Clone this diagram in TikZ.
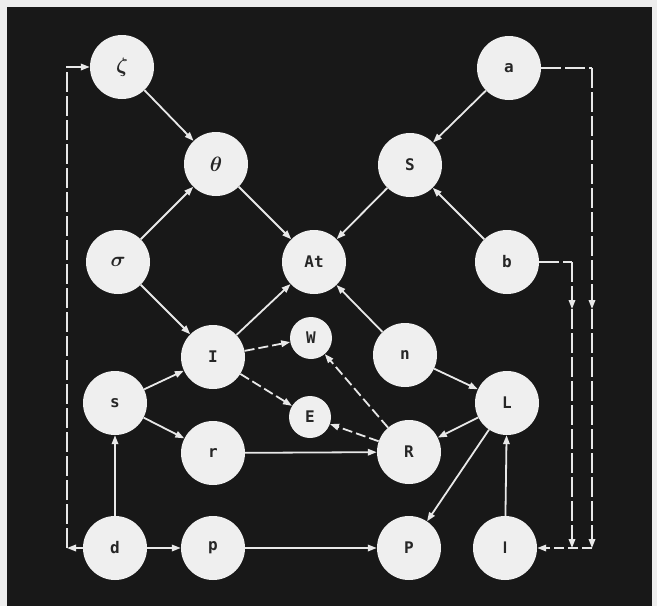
\documentclass[tikz,border=0pt]{standalone}
\usepackage{fontspec}
\setmainfont{DejaVu Sans Mono}
\newfontfamily\plainf{Liberation Sans}
\usetikzlibrary{arrows.meta}
\definecolor{bgc}{HTML}{181818}
\definecolor{margc}{HTML}{EDEDED}
\definecolor{nodefill}{HTML}{EFEFEF}
\definecolor{linec}{HTML}{E8E8E8}
\definecolor{txtc}{HTML}{262626}
\tikzset{
  nd/.style={circle, fill=nodefill, minimum size=64pt, inner sep=0pt, text=txtc, font=\fontsize{16}{18}\selectfont\bfseries\boldmath},
  gk/.style={nd, font=\fontsize{20}{22}\selectfont\boldmath},
  sm/.style={nd, minimum size=42pt},
  ar/.style={draw=linec, line width=1.8pt, -{Triangle[length=9pt,width=6.5pt]}},
  dar/.style={ar, dash pattern=on 10pt off 4pt},
  ldar/.style={ar, dash pattern=on 20pt off 4pt},
}
\begin{document}
\begin{tikzpicture}[x=1pt,y=-1pt]
\fill[margc] (0,0) rectangle (657,606);
\fill[bgc] (7,7) rectangle (652,606);
\useasboundingbox (0,0) rectangle (657,606);
% nodes
\node[gk] (zeta) at (122,67) {$\zeta$};
\node[gk] (theta) at (216,164) {$\theta$};
\node[gk] (sigma) at (118,262) {$\sigma$};
\node[nd] (At) at (314,262) {At};
\node[nd] (a) at (509,68) {a};
\node[nd] (S) at (410,165) {S};
\node[nd] (b) at (507,262) {b};
\node[nd] (I) at (213,357) {I};
\node[sm] (W) at (311,338) {W};
\node[sm] (E) at (310,417) {E};
\node[nd] (n) at (405,355) {n};
\node[nd] (s) at (115,403) {s};
\node[nd] (L) at (507,403) {L};
\node[nd] (r) at (213,453) {r};
\node[nd] (R) at (409,452) {R};
\node[nd] (d) at (115,548) {d};
\node[nd] (p) at (213,548) {p};
\node[nd] (P) at (409,548) {P};
\node[nd] (l) at (505,548) {\plainf\bfseries l};
% corner coordinates
\coordinate (cl) at (67,548);
\coordinate (ca) at (592,68);
\coordinate (cam) at (592,309);
\coordinate (cab) at (592,548);
\coordinate (cb) at (572,262);
\coordinate (cbm) at (572,309);
\coordinate (cbb) at (572,548);
% solid arrows
\draw[ar] (zeta) -- (theta);
\draw[ar] (sigma) -- (theta);
\draw[ar] (theta) -- (At);
\draw[ar] (a) -- (S);
\draw[ar] (b) -- (S);
\draw[ar] (S) -- (At);
\draw[ar] (sigma) -- (I);
\draw[ar] (I) -- (At);
\draw[ar] (n) -- (At);
\draw[ar] (s) -- (I);
\draw[ar] (s) -- (r);
\draw[ar] (d) -- (s);
\draw[ar] (d) -- (p);
\draw[ar] (p) -- (P);
\draw[ar] (r) -- (R);
\draw[ar] (n) -- (L);
\draw[ar] (L) -- (R);
\draw[ar] (L) -- (P);
\draw[ar] (l) -- (L);
% dashed arrows
\draw[dar] (I) -- (W);
\draw[dar] (I) -- (E);
\draw[dar] (R) -- (W);
\draw[dar] (R) -- (E);
% feedback lines
\draw[ar] (d) -- (cl);
\draw[ldar] (cl) |- (zeta);
\draw[ldar, -] (a) -- (ca);
\draw[ldar] (ca) -- (cam);
\draw[ldar] (cam) -- (cab);
\draw[ldar, -] (b) -- (cb);
\draw[ldar] (cb) -- (cbm);
\draw[ldar] (cbm) -- (cbb);
\draw[dar] (cab) -- (l);
\end{tikzpicture}
\end{document}
